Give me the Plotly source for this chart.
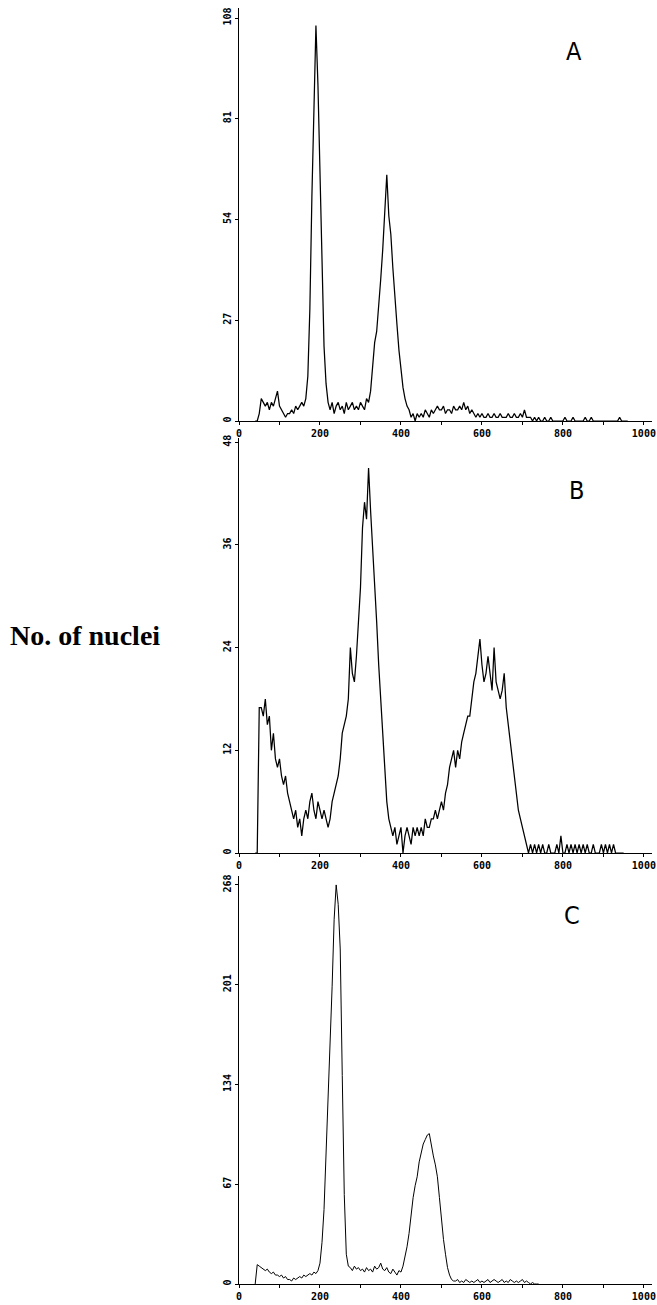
import plotly.graph_objects as go

# ---------------- data (channel start 40, step 5) ----------------
start_channel = 40
step = 5

counts_a = [
    0, 0, 2, 6, 5, 4, 5, 3, 5, 4,          # 40-85
    6, 8, 4, 3, 2, 1, 2, 2, 3, 2,          # 90-135
    4, 3, 4, 5, 4, 6, 12, 30, 60, 88,      # 140-185
    106, 90, 65, 40, 20, 10, 5, 3, 5, 2,   # 190-235
    4, 5, 3, 4, 2, 5, 3, 4, 5, 3,          # 240-285
    4, 3, 5, 4, 3, 6, 5, 8, 16, 21,        # 290-335
    24, 30, 38, 46, 55, 66, 55, 50, 41, 32,  # 340-385
    26, 19, 13, 9, 6, 4, 3, 1, 2, 0,       # 390-435
    2, 1, 2, 1, 3, 2, 1, 3, 2, 3,          # 440-485
    4, 3, 3, 4, 2, 3, 3, 2, 4, 3,          # 490-535
    3, 4, 3, 5, 3, 4, 2, 3, 2, 1,          # 540-585
    2, 1, 2, 1, 1, 2, 1, 1, 2, 1,          # 590-635
    1, 2, 1, 1, 1, 2, 1, 1, 2, 1,          # 640-685
    1, 2, 1, 3, 1, 1, 1, 0, 1, 0,          # 690-735
    1, 0, 0, 1, 0, 0, 1, 0, 0, 0,          # 740-785
    0, 0, 0, 1, 0, 0, 0, 1, 0, 0,          # 790-835
    0, 0, 0, 1, 0, 0, 1, 0, 0, 0,          # 840-885
    0, 0, 0, 0, 0, 0, 0, 0, 0, 0,          # 890-935
    1, 0, 0, 0, 0,                         # 940-960
]

counts_b = [
    0, 0, 17, 17, 16, 18, 15, 16, 12, 14,  # 40-85
    11, 10, 11, 9, 8, 9, 7, 6, 5, 4,       # 90-135
    5, 3, 4, 2, 4, 5, 4, 6, 7, 5,          # 140-185
    4, 6, 5, 4, 5, 4, 3, 4, 6, 7,          # 190-235
    8, 9, 11, 14, 15, 16, 18, 24, 21, 20,  # 240-285
    23, 27, 31, 38, 41, 39, 45, 40, 36, 31,  # 290-335
    27, 22, 18, 14, 10, 6, 4, 3, 2, 3,     # 340-385
    1, 2, 3, 0, 2, 3, 2, 1, 3, 2,          # 390-435
    3, 2, 3, 2, 4, 3, 3, 4, 4, 5,          # 440-485
    4, 5, 6, 5, 7, 8, 10, 11, 12, 10,      # 490-535
    12, 11, 13, 14, 15, 16, 16, 18, 20, 21,  # 540-585
    23, 25, 22, 20, 21, 23, 21, 19, 24, 20,  # 590-635
    19, 18, 19, 21, 17, 15, 13, 11, 9, 7,  # 640-685
    5, 4, 3, 2, 1, 0, 1, 0, 1, 0,          # 690-735
    1, 0, 1, 0, 0, 1, 0, 0, 0, 1,          # 740-785
    0, 2, 0, 0, 1, 0, 1, 0, 1, 0,          # 790-835
    1, 0, 1, 0, 1, 0, 0, 1, 0, 0,          # 840-885
    0, 1, 0, 1, 0, 1, 0, 1, 0, 0,          # 890-935
    0, 0, 0,                               # 940-950
]

counts_c = [
    0, 13, 12, 11, 10, 9, 10, 8, 7, 8,     # 40-85
    6, 6, 5, 6, 4, 5, 3, 3, 2, 4,          # 90-135
    3, 4, 5, 4, 6, 5, 6, 7, 6, 8,          # 140-185
    7, 9, 14, 28, 50, 85, 120, 157, 200, 245,  # 190-235
    268, 255, 225, 140, 60, 20, 12, 11, 9, 12,  # 240-285
    10, 11, 9, 10, 8, 11, 9, 10, 8, 12,    # 290-335
    10, 11, 14, 10, 9, 11, 8, 7, 10, 8,    # 340-385
    6, 9, 8, 12, 18, 25, 34, 48, 58, 66,   # 390-435
    72, 82, 89, 94, 97, 100, 101, 92, 86, 80,  # 440-485
    72, 58, 43, 30, 20, 11, 6, 3, 2, 2,    # 490-535
    3, 1, 2, 1, 3, 2, 1, 2, 1, 2,          # 540-585
    3, 1, 2, 1, 2, 3, 1, 2, 3, 2,          # 590-635
    1, 2, 3, 1, 2, 1, 3, 2, 1, 2,          # 640-685
    1, 2, 3, 1, 2, 1, 0, 1, 0, 0,          # 690-735
    0,                                     # 740
]

def channels(counts):
    return [start_channel + step * i for i in range(len(counts))]

x_ticks = [0, 200, 400, 600, 800, 1000]
y_ticks_a = [0, 27, 54, 81, 108]
y_ticks_b = [0, 12, 24, 36, 48]
y_ticks_c = [0, 67, 134, 201, 268]
panel_labels = ["A", "B", "C"]
y_title = "No. of nuclei"

# ---------------- figure ----------------
W, H = 657, 1305

def fx(px):
    return px / W

def fy(py):
    return 1 - py / H

fig = go.Figure()

for i, counts in enumerate([counts_a, counts_b, counts_c]):
    suffix = "" if i == 0 else str(i + 1)
    fig.add_trace(go.Scatter(
        x=channels(counts), y=counts, mode="lines",
        line=dict(color="black", width=1.25 if i < 2 else 1.0),
        xaxis="x" + suffix, yaxis="y" + suffix, showlegend=False,
        hoverinfo="skip",
    ))

x_dom = [fx(239), fx(652)]
panels = [
    # (top px, bottom px, ymax range, ticks)
    (8, 421, 110.7, y_ticks_a),
    (438, 853, 48.5, y_ticks_b),
    (876, 1284, 274.0, y_ticks_c),
]

tick_font = dict(family="DejaVu Sans Mono", size=10, color="black")
layout = dict(
    width=W, height=H, autosize=False,
    margin=dict(l=0, r=0, t=0, b=0),
    paper_bgcolor="white", plot_bgcolor="white",
    showlegend=False,
)

for i, (top, bot, ymax, yt) in enumerate(panels):
    suffix = "" if i == 0 else str(i + 1)
    ydom = [fy(bot), fy(top)]
    layout["xaxis" + suffix] = dict(
        domain=x_dom, range=[0, 1020], anchor="y" + suffix,
        tickmode="array", tickvals=x_ticks,
        ticktext=["<b>%d</b>" % v for v in x_ticks],
        ticks="outside", ticklen=3, tickcolor="black", tickwidth=1,
        minor=dict(tickmode="linear", tick0=100, dtick=200, ticks="outside",
                   ticklen=3, tickcolor="black", tickwidth=1, showgrid=False),
        showline=True, linecolor="black", linewidth=1,
        showgrid=False, zeroline=False, tickfont=tick_font,
        ticklabeloverflow="allow",
        automargin=False, fixedrange=True,
    )
    layout["yaxis" + suffix] = dict(
        domain=ydom, range=[0, ymax], anchor="x" + suffix,
        tickmode="array", tickvals=yt,
        ticktext=["<b>%d</b>" % v for v in yt],
        tickangle=-90,
        ticks="outside", ticklen=3, tickcolor="black", tickwidth=1,
        showline=True, linecolor="black", linewidth=1,
        showgrid=False, zeroline=False, tickfont=tick_font,
        ticklabeloverflow="allow",
        automargin=False, fixedrange=True,
    )

fig.update_layout(**layout)

# panel letters
letter_pos = [(574, 52), (576, 490), (572, 915)]
for lab, (px, py) in zip(panel_labels, letter_pos):
    fig.add_annotation(
        x=fx(px), y=fy(py), xref="paper", yref="paper",
        text=lab, showarrow=False, xanchor="center", yanchor="middle",
        font=dict(family="Liberation Sans Narrow, DejaVu Sans Condensed, sans-serif",
                  size=25, color="black"),
    )

# shared y-axis title
fig.add_annotation(
    x=fx(8), y=fy(636), xref="paper", yref="paper",
    text="<b>" + y_title + "</b>", showarrow=False,
    xanchor="left", yanchor="middle",
    font=dict(family="Liberation Serif, Times New Roman, serif", size=28, color="black"),
)

# remove the default page margin so the figure fills the window exactly
page_css = ("document.body.style.margin='0';"
            "document.body.style.overflow='hidden';"
            "document.documentElement.style.overflow='hidden';")
fig.write_html("out.html", post_script=page_css,
               config={"displayModeBar": False, "staticPlot": True})
